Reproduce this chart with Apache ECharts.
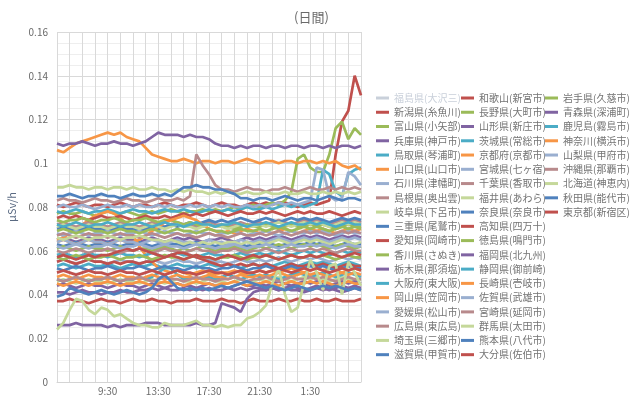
<!DOCTYPE html>
<html><head><meta charset="utf-8">
<script src="https://cdn.jsdelivr.net/npm/echarts@6/dist/echarts.min.js"></script>
<style>html,body{margin:0;padding:0;background:#fff}#c{width:640px;height:396px}</style>
</head><body><div id="c"></div>
<script>
const times = ["5:30","6:00","6:30","7:00","7:30","8:00","8:30","9:00","9:30","10:00","10:30","11:00","11:30","12:00","12:30","13:00","13:30","14:00","14:30","15:00","15:30","16:00","16:30","17:00","17:30","18:00","18:30","19:00","19:30","20:00","20:30","21:00","21:30","22:00","22:30","23:00","23:30","0:00","0:30","1:00","1:30","2:00","2:30","3:00","3:30","4:00","4:30","5:00","5:30"];
const tickLabels = ["9:30","13:30","17:30","21:30","1:30"];
const names = ['福島県(大沢三)','新潟県(糸魚川)','富山県(小矢部)','兵庫県(神戸市)','鳥取県(琴浦町)','山口県(山口市)','石川県(津幡町)','島根県(奥出雲)','岐阜県(下呂市)','三重県(尾鷲市)','愛知県(岡崎市)','香川県(さぬき)','栃木県(那須塩)','大阪府(東大阪)','岡山県(笠岡市)','愛媛県(松山市)','広島県(東広島)','埼玉県(三郷市)','滋賀県(甲賀市)','和歌山(新宮市)','長野県(大町市)','山形県(新庄市)','茨城県(常総市)','京都府(京都市)','宮城県(七ヶ宿)','千葉県(香取市)','福井県(あわら)','奈良県(奈良市)','高知県(四万十)','徳島県(鳴門市)','福岡県(北九州)','静岡県(御前崎)','長崎県(壱岐市)','佐賀県(武雄市)','宮崎県(延岡市)','群馬県(太田市)','熊本県(八代市)','大分県(佐伯市)','岩手県(久慈市)','青森県(深浦町)','鹿児島(霧島市)','神奈川(横浜市)','山梨県(甲府市)','沖縄県(那覇市)','北海道(神恵内)','秋田県(能代市)','東京都(新宿区)'];

const fukushima = [0.182,0.181,0.183,0.182,0.180,0.181,0.182,0.181, 0.180,0.181,0.180,0.179,0.180,0.181,0.180,0.179, 0.180,0.179,0.180,0.181,0.180,0.179,0.180,0.181, 0.180,0.181,0.180,0.179,0.180,0.181,0.180,0.181, 0.180,0.181,0.182,0.181,0.180,0.181,0.182,0.181, 0.182,0.181,0.180,0.181,0.182,0.181,0.180,0.181,0.182];
const niigata = [0.081,0.080,0.081,0.082,0.081,0.080,0.081,0.081, 0.080,0.081,0.082,0.081,0.080,0.081,0.081,0.080, 0.081,0.082,0.081,0.080,0.081,0.081,0.082,0.081, 0.080,0.081,0.082,0.081,0.081,0.080,0.081,0.082, 0.081,0.082,0.081,0.082,0.082,0.081,0.080,0.081, 0.082,0.081,0.082,0.083,0.104,0.119,0.124,0.140,0.131];
const toyama = [0.077,0.078,0.077,0.077,0.078,0.077,0.076,0.077, 0.078,0.077,0.077,0.078,0.077,0.076,0.077,0.078, 0.077,0.078,0.079,0.078,0.077,0.078,0.078,0.079, 0.078,0.079,0.078,0.079,0.080,0.079,0.080,0.081, 0.080,0.081,0.082,0.081,0.083,0.087,0.102,0.104, 0.098,0.096,0.096,0.104,0.116,0.119,0.111,0.116,0.113];
const hyogo = [0.065,0.066,0.065,0.064,0.065,0.066,0.065,0.065, 0.064,0.065,0.066,0.065,0.065,0.064,0.065,0.066, 0.065,0.064,0.065,0.066,0.065,0.066,0.065,0.064, 0.065,0.065,0.066,0.065,0.064,0.065,0.066,0.065, 0.066,0.065,0.066,0.067,0.066,0.065,0.066,0.067, 0.066,0.067,0.066,0.065,0.066,0.067,0.066,0.067,0.066];
const tottori = [0.078,0.077,0.078,0.079,0.078,0.077,0.078,0.078, 0.079,0.078,0.077,0.078,0.079,0.078,0.078,0.077, 0.078,0.079,0.078,0.078,0.079,0.078,0.077,0.078, 0.079,0.078,0.078,0.079,0.078,0.079,0.080,0.079, 0.079,0.080,0.079,0.080,0.081,0.080,0.081,0.080, 0.081,0.082,0.097,0.095,0.087,0.085,0.095,0.097,0.098];
const yamaguchi = [0.106,0.105,0.107,0.109,0.110,0.111,0.112,0.113, 0.114,0.113,0.114,0.112,0.111,0.110,0.107,0.104, 0.103,0.102,0.101,0.101,0.102,0.101,0.100,0.101, 0.101,0.100,0.101,0.101,0.100,0.101,0.102,0.101, 0.100,0.101,0.101,0.100,0.101,0.101,0.100,0.101, 0.101,0.100,0.101,0.100,0.101,0.099,0.098,0.099,0.097];
const ishikawa = [0.080,0.081,0.080,0.080,0.081,0.080,0.079,0.080, 0.081,0.080,0.080,0.081,0.080,0.081,0.080,0.080, 0.081,0.080,0.081,0.080,0.080,0.081,0.080,0.081, 0.080,0.081,0.080,0.081,0.080,0.080,0.081,0.080, 0.081,0.080,0.081,0.082,0.081,0.082,0.081,0.082, 0.083,0.098,0.097,0.085,0.083,0.084,0.096,0.094,0.090];
const shimane = [0.083,0.084,0.083,0.083,0.082,0.083,0.084,0.083, 0.083,0.082,0.083,0.084,0.083,0.083,0.082,0.083, 0.084,0.083,0.083,0.084,0.083,0.085,0.104,0.099, 0.095,0.090,0.088,0.088,0.087,0.088,0.089,0.088, 0.088,0.087,0.088,0.088,0.089,0.088,0.087,0.088, 0.089,0.088,0.088,0.089,0.088,0.089,0.088,0.089,0.088];
const gifu = [0.089,0.089,0.090,0.089,0.089,0.088,0.089,0.089, 0.088,0.089,0.089,0.088,0.089,0.088,0.088,0.089, 0.088,0.088,0.087,0.088,0.087,0.088,0.087,0.087, 0.086,0.087,0.086,0.087,0.086,0.086,0.087,0.086, 0.086,0.087,0.086,0.086,0.087,0.086,0.086,0.087, 0.086,0.086,0.087,0.086,0.087,0.086,0.087,0.086,0.087];
const mie = [0.063,0.062,0.063,0.064,0.063,0.062,0.063,0.063, 0.064,0.063,0.062,0.063,0.063,0.064,0.063,0.062, 0.063,0.064,0.063,0.063,0.062,0.063,0.064,0.063, 0.063,0.062,0.063,0.063,0.064,0.063,0.062,0.063, 0.063,0.064,0.063,0.062,0.063,0.064,0.063,0.063, 0.064,0.063,0.064,0.063,0.062,0.063,0.064,0.063,0.063];
const aichi = [0.037,0.037,0.038,0.037,0.037,0.036,0.037,0.038, 0.037,0.037,0.036,0.037,0.038,0.037,0.037,0.038, 0.037,0.037,0.036,0.037,0.037,0.037,0.038,0.037, 0.037,0.037,0.038,0.037,0.037,0.036,0.037,0.038, 0.037,0.037,0.037,0.038,0.037,0.037,0.038,0.037, 0.037,0.038,0.037,0.037,0.038,0.037,0.037,0.037,0.038];
const kagawa = [0.061,0.062,0.061,0.060,0.061,0.062,0.061,0.061, 0.060,0.061,0.062,0.061,0.060,0.061,0.061,0.060, 0.061,0.062,0.061,0.060,0.061,0.060,0.061,0.062, 0.061,0.060,0.061,0.061,0.062,0.061,0.060,0.061, 0.062,0.061,0.062,0.063,0.062,0.061,0.062,0.063, 0.062,0.063,0.062,0.061,0.062,0.063,0.062,0.061,0.062];
const tochigi = [0.109,0.108,0.109,0.109,0.110,0.109,0.108,0.109, 0.109,0.110,0.109,0.109,0.108,0.109,0.110,0.112, 0.114,0.113,0.113,0.113,0.112,0.113,0.112,0.112, 0.111,0.109,0.108,0.108,0.107,0.108,0.107,0.108, 0.108,0.107,0.108,0.108,0.107,0.108,0.108,0.107, 0.108,0.108,0.107,0.108,0.107,0.108,0.108,0.107,0.108];
const osaka = [0.053,0.054,0.053,0.052,0.053,0.054,0.053,0.053, 0.054,0.053,0.052,0.053,0.054,0.053,0.053,0.054, 0.053,0.052,0.053,0.054,0.053,0.053,0.052,0.053, 0.054,0.053,0.053,0.054,0.053,0.052,0.053,0.054, 0.053,0.054,0.053,0.054,0.055,0.054,0.053,0.054, 0.055,0.054,0.055,0.054,0.053,0.054,0.055,0.054,0.053];
const okayama = [0.065,0.066,0.068,0.070,0.072,0.074,0.076,0.077, 0.078,0.077,0.075,0.072,0.067,0.062,0.058,0.055, 0.052,0.051,0.050,0.051,0.050,0.049,0.050,0.051, 0.050,0.049,0.050,0.050,0.051,0.050,0.049,0.050, 0.051,0.050,0.051,0.050,0.051,0.052,0.051,0.050, 0.051,0.052,0.051,0.052,0.051,0.050,0.051,0.052,0.051];
const ehime = [0.055,0.056,0.055,0.054,0.055,0.056,0.055,0.055, 0.054,0.055,0.056,0.055,0.055,0.054,0.055,0.056, 0.055,0.054,0.055,0.056,0.055,0.055,0.054,0.055, 0.056,0.055,0.055,0.054,0.055,0.056,0.055,0.055, 0.056,0.055,0.056,0.057,0.056,0.055,0.056,0.057, 0.056,0.057,0.056,0.055,0.056,0.057,0.056,0.057,0.056];
const hiroshima = [0.072,0.073,0.072,0.071,0.072,0.073,0.072,0.072, 0.071,0.072,0.073,0.072,0.072,0.071,0.072,0.073, 0.072,0.071,0.072,0.073,0.072,0.072,0.071,0.072, 0.073,0.072,0.072,0.071,0.072,0.073,0.072,0.072, 0.073,0.072,0.073,0.074,0.073,0.072,0.073,0.074, 0.073,0.074,0.073,0.072,0.073,0.074,0.073,0.074,0.073];
const saitama = [0.046,0.047,0.046,0.045,0.046,0.047,0.046,0.046, 0.045,0.046,0.047,0.046,0.046,0.045,0.046,0.047, 0.046,0.045,0.046,0.047,0.046,0.046,0.045,0.046, 0.047,0.046,0.046,0.045,0.046,0.047,0.046,0.046, 0.047,0.046,0.047,0.048,0.047,0.046,0.047,0.048, 0.047,0.048,0.047,0.046,0.047,0.048,0.047,0.046,0.047];
const shiga = [0.070,0.071,0.070,0.069,0.070,0.071,0.070,0.070, 0.069,0.070,0.071,0.070,0.070,0.069,0.070,0.071, 0.070,0.071,0.072,0.071,0.072,0.073,0.072,0.073, 0.074,0.073,0.074,0.073,0.074,0.075,0.074,0.073, 0.074,0.075,0.074,0.073,0.074,0.075,0.074,0.075, 0.074,0.075,0.074,0.073,0.074,0.075,0.074,0.075,0.074];
const wakayama = [0.075,0.076,0.075,0.076,0.075,0.074,0.075,0.076, 0.075,0.075,0.076,0.075,0.074,0.075,0.076,0.075, 0.075,0.076,0.075,0.076,0.077,0.076,0.077,0.076, 0.077,0.078,0.077,0.076,0.077,0.078,0.077,0.077, 0.078,0.077,0.078,0.077,0.076,0.077,0.078,0.077, 0.078,0.077,0.077,0.078,0.077,0.076,0.077,0.078,0.077];
const nagano = [0.074,0.073,0.074,0.074,0.075,0.074,0.073,0.074, 0.074,0.075,0.074,0.073,0.074,0.074,0.075,0.074, 0.073,0.074,0.074,0.073,0.072,0.073,0.072,0.071, 0.072,0.071,0.072,0.071,0.070,0.071,0.072,0.071, 0.071,0.072,0.071,0.070,0.071,0.072,0.071,0.071, 0.072,0.071,0.072,0.071,0.070,0.071,0.072,0.071,0.071];
const yamagata = [0.026,0.026,0.026,0.027,0.026,0.026,0.026,0.026, 0.025,0.026,0.025,0.026,0.026,0.026,0.027,0.027, 0.027,0.026,0.026,0.026,0.026,0.026,0.027,0.026, 0.026,0.027,0.036,0.035,0.034,0.032,0.038,0.041, 0.042,0.042,0.043,0.042,0.043,0.042,0.042,0.041, 0.042,0.043,0.042,0.043,0.042,0.041,0.042,0.043,0.042];
const ibaraki = [0.058,0.059,0.058,0.057,0.058,0.059,0.058,0.058, 0.057,0.058,0.059,0.058,0.058,0.057,0.058,0.059, 0.058,0.057,0.058,0.059,0.058,0.058,0.057,0.058, 0.059,0.058,0.058,0.057,0.058,0.059,0.058,0.058, 0.059,0.058,0.059,0.060,0.059,0.058,0.059,0.060, 0.059,0.060,0.059,0.058,0.059,0.060,0.059,0.060,0.059];
const kyoto = [0.064,0.065,0.064,0.063,0.064,0.065,0.064,0.064, 0.063,0.064,0.065,0.064,0.064,0.065,0.067,0.069, 0.071,0.073,0.074,0.075,0.076,0.075,0.074,0.072, 0.070,0.069,0.068,0.069,0.068,0.069,0.070,0.069, 0.068,0.069,0.068,0.069,0.070,0.069,0.068,0.069, 0.070,0.069,0.070,0.069,0.068,0.069,0.070,0.069,0.070];
const miyagi = [0.068,0.067,0.068,0.069,0.068,0.067,0.068,0.068, 0.069,0.068,0.067,0.068,0.068,0.069,0.068,0.067, 0.068,0.069,0.068,0.068,0.067,0.068,0.069,0.068, 0.068,0.067,0.068,0.068,0.069,0.068,0.067,0.068, 0.068,0.069,0.068,0.067,0.068,0.069,0.068,0.068, 0.069,0.068,0.069,0.068,0.067,0.068,0.069,0.068,0.068];
const chiba = [0.060,0.059,0.060,0.061,0.060,0.059,0.060,0.060, 0.061,0.060,0.059,0.060,0.060,0.061,0.060,0.059, 0.060,0.061,0.060,0.060,0.059,0.060,0.061,0.060, 0.060,0.059,0.060,0.060,0.061,0.060,0.059,0.060, 0.060,0.061,0.060,0.059,0.060,0.061,0.060,0.060, 0.061,0.060,0.061,0.060,0.059,0.060,0.061,0.060,0.060];
const fukui = [0.071,0.072,0.071,0.070,0.071,0.072,0.071,0.071, 0.070,0.071,0.072,0.071,0.071,0.070,0.071,0.072, 0.071,0.070,0.071,0.072,0.071,0.071,0.070,0.071, 0.072,0.071,0.071,0.070,0.071,0.072,0.071,0.071, 0.072,0.071,0.072,0.073,0.072,0.071,0.072,0.073, 0.072,0.073,0.072,0.071,0.072,0.073,0.072,0.073,0.072];
const nara = [0.085,0.085,0.086,0.085,0.084,0.085,0.085,0.086, 0.085,0.085,0.084,0.085,0.086,0.085,0.085,0.086, 0.085,0.086,0.085,0.087,0.089,0.089,0.090,0.089, 0.089,0.088,0.088,0.087,0.086,0.084,0.084,0.083, 0.084,0.084,0.083,0.084,0.085,0.084,0.083,0.084, 0.084,0.083,0.084,0.085,0.084,0.083,0.084,0.084,0.083];
const kochi = [0.055,0.056,0.055,0.054,0.055,0.056,0.055,0.055, 0.054,0.055,0.054,0.055,0.055,0.054,0.055,0.055, 0.056,0.057,0.058,0.059,0.059,0.058,0.057,0.056, 0.055,0.054,0.053,0.054,0.053,0.054,0.053,0.054, 0.053,0.054,0.053,0.052,0.053,0.054,0.053,0.053, 0.054,0.053,0.054,0.053,0.052,0.053,0.054,0.053,0.053];
const tokushima = [0.057,0.056,0.057,0.058,0.057,0.056,0.057,0.057, 0.058,0.057,0.056,0.057,0.057,0.058,0.057,0.056, 0.057,0.058,0.057,0.057,0.056,0.057,0.058,0.057, 0.057,0.056,0.057,0.057,0.058,0.057,0.056,0.057, 0.057,0.058,0.057,0.056,0.057,0.058,0.057,0.057, 0.058,0.057,0.058,0.057,0.056,0.057,0.058,0.057,0.057];
const fukuoka = [0.041,0.041,0.040,0.041,0.042,0.041,0.041,0.040, 0.041,0.041,0.042,0.041,0.041,0.042,0.042,0.043, 0.042,0.043,0.042,0.042,0.043,0.042,0.043,0.042, 0.043,0.042,0.042,0.043,0.042,0.043,0.042,0.043, 0.043,0.042,0.043,0.042,0.043,0.044,0.043,0.042, 0.043,0.044,0.043,0.042,0.043,0.044,0.043,0.044,0.043];
const shizuoka = [0.047,0.046,0.047,0.048,0.047,0.046,0.047,0.047, 0.048,0.047,0.046,0.047,0.047,0.048,0.047,0.048, 0.050,0.052,0.052,0.049,0.047,0.048,0.047,0.048, 0.048,0.047,0.048,0.049,0.048,0.047,0.048,0.049, 0.048,0.049,0.048,0.047,0.048,0.049,0.050,0.049, 0.048,0.049,0.050,0.049,0.048,0.049,0.050,0.049,0.048];
const nagasaki = [0.048,0.049,0.048,0.047,0.048,0.049,0.048,0.048, 0.047,0.048,0.049,0.048,0.048,0.047,0.048,0.049, 0.048,0.047,0.048,0.049,0.048,0.048,0.047,0.048, 0.049,0.048,0.048,0.047,0.048,0.049,0.048,0.048, 0.049,0.048,0.049,0.050,0.049,0.048,0.049,0.050, 0.049,0.050,0.049,0.048,0.049,0.050,0.049,0.050,0.049];
const saga = [0.064,0.065,0.064,0.063,0.064,0.065,0.064,0.064, 0.063,0.064,0.065,0.064,0.064,0.063,0.064,0.065, 0.064,0.063,0.064,0.065,0.064,0.064,0.063,0.064, 0.065,0.064,0.064,0.063,0.064,0.065,0.064,0.064, 0.065,0.064,0.065,0.066,0.065,0.064,0.065,0.066, 0.065,0.066,0.065,0.064,0.065,0.066,0.065,0.066,0.065];
const miyazaki = [0.067,0.068,0.067,0.066,0.067,0.068,0.067,0.067, 0.066,0.067,0.068,0.067,0.067,0.066,0.067,0.068, 0.067,0.066,0.067,0.068,0.067,0.067,0.066,0.067, 0.068,0.067,0.067,0.066,0.067,0.068,0.067,0.067, 0.068,0.067,0.068,0.069,0.068,0.067,0.068,0.069, 0.068,0.069,0.068,0.067,0.068,0.069,0.068,0.069,0.068];
const gunma = [0.066,0.065,0.066,0.067,0.066,0.065,0.066,0.066, 0.067,0.066,0.065,0.066,0.066,0.067,0.066,0.065, 0.065,0.064,0.065,0.064,0.063,0.064,0.063,0.064, 0.063,0.064,0.063,0.064,0.064,0.063,0.064,0.063, 0.064,0.063,0.064,0.065,0.064,0.063,0.064,0.065, 0.064,0.065,0.064,0.063,0.064,0.065,0.064,0.063,0.064];
const kumamoto = [0.052,0.051,0.052,0.053,0.052,0.051,0.052,0.052, 0.053,0.052,0.051,0.052,0.052,0.053,0.052,0.051, 0.052,0.053,0.052,0.052,0.051,0.052,0.053,0.052, 0.052,0.051,0.052,0.052,0.053,0.052,0.051,0.052, 0.052,0.053,0.052,0.051,0.052,0.053,0.052,0.052, 0.053,0.052,0.053,0.052,0.051,0.052,0.053,0.052,0.052];
const oita = [0.057,0.058,0.057,0.056,0.057,0.058,0.057,0.058, 0.058,0.059,0.060,0.061,0.060,0.061,0.060,0.059, 0.058,0.057,0.058,0.057,0.056,0.057,0.058,0.057, 0.057,0.056,0.057,0.058,0.057,0.056,0.057,0.058, 0.057,0.058,0.057,0.056,0.057,0.058,0.057,0.057, 0.058,0.057,0.058,0.059,0.058,0.057,0.058,0.059,0.058];
const iwate = [0.069,0.070,0.069,0.068,0.069,0.070,0.069,0.069, 0.068,0.069,0.070,0.069,0.069,0.068,0.069,0.070, 0.069,0.068,0.069,0.070,0.069,0.069,0.068,0.069, 0.070,0.069,0.069,0.068,0.069,0.070,0.069,0.069, 0.070,0.069,0.070,0.071,0.070,0.069,0.070,0.071, 0.070,0.071,0.070,0.069,0.070,0.071,0.070,0.071,0.070];
const aomori = [0.044,0.045,0.044,0.043,0.044,0.045,0.044,0.044, 0.043,0.044,0.045,0.044,0.044,0.043,0.044,0.045, 0.044,0.043,0.044,0.045,0.044,0.044,0.043,0.044, 0.045,0.044,0.044,0.043,0.044,0.045,0.044,0.044, 0.045,0.044,0.045,0.046,0.045,0.044,0.045,0.046, 0.045,0.046,0.045,0.044,0.045,0.046,0.045,0.046,0.045];
const kagoshima = [0.072,0.071,0.072,0.073,0.072,0.071,0.072,0.072, 0.073,0.072,0.071,0.072,0.072,0.073,0.072,0.071, 0.072,0.073,0.072,0.072,0.071,0.072,0.073,0.072, 0.072,0.071,0.072,0.072,0.073,0.072,0.071,0.072, 0.072,0.073,0.072,0.071,0.072,0.073,0.072,0.072, 0.073,0.072,0.073,0.072,0.071,0.072,0.073,0.072,0.072];
const kanagawa = [0.045,0.044,0.045,0.046,0.045,0.044,0.045,0.045, 0.046,0.045,0.044,0.045,0.045,0.046,0.045,0.044, 0.045,0.046,0.045,0.045,0.044,0.045,0.046,0.045, 0.045,0.044,0.045,0.045,0.046,0.045,0.044,0.045, 0.045,0.046,0.045,0.044,0.045,0.046,0.045,0.045, 0.046,0.045,0.046,0.045,0.044,0.045,0.046,0.045,0.045];
const yamanashi = [0.062,0.061,0.062,0.063,0.062,0.061,0.062,0.062, 0.063,0.062,0.061,0.062,0.062,0.063,0.062,0.061, 0.062,0.063,0.062,0.062,0.061,0.062,0.063,0.062, 0.062,0.061,0.062,0.062,0.063,0.062,0.061,0.062, 0.062,0.063,0.062,0.061,0.062,0.063,0.062,0.062, 0.063,0.062,0.063,0.062,0.061,0.062,0.063,0.062,0.062];
const okinawa = [0.047,0.046,0.047,0.048,0.047,0.046,0.047,0.047, 0.048,0.047,0.046,0.047,0.047,0.048,0.047,0.046, 0.047,0.048,0.047,0.047,0.046,0.047,0.048,0.047, 0.047,0.046,0.047,0.047,0.048,0.047,0.046,0.047, 0.047,0.048,0.047,0.046,0.047,0.048,0.047,0.047, 0.048,0.047,0.048,0.047,0.046,0.047,0.048,0.047,0.047];
const hokkaido = [0.024,0.027,0.033,0.038,0.037,0.033,0.031,0.034, 0.033,0.030,0.031,0.029,0.027,0.026,0.026,0.025, 0.025,0.027,0.026,0.026,0.026,0.027,0.028,0.026, 0.026,0.025,0.026,0.025,0.026,0.026,0.029,0.030, 0.032,0.035,0.045,0.052,0.040,0.032,0.034,0.045, 0.056,0.050,0.042,0.053,0.054,0.040,0.055,0.050,0.044];
const akita = [0.039,0.040,0.043,0.042,0.041,0.040,0.041,0.042, 0.041,0.040,0.041,0.042,0.041,0.040,0.041,0.043, 0.047,0.049,0.046,0.043,0.042,0.043,0.042,0.043, 0.042,0.043,0.044,0.043,0.044,0.045,0.046,0.045, 0.044,0.043,0.044,0.043,0.042,0.043,0.044,0.043, 0.042,0.043,0.044,0.043,0.044,0.043,0.042,0.043,0.042];
const tokyo = [0.050,0.051,0.050,0.049,0.050,0.051,0.050,0.050, 0.049,0.050,0.051,0.050,0.050,0.049,0.050,0.051, 0.050,0.049,0.050,0.051,0.050,0.050,0.049,0.050, 0.051,0.050,0.050,0.049,0.050,0.051,0.050,0.050, 0.051,0.050,0.051,0.052,0.051,0.050,0.051,0.052, 0.051,0.052,0.051,0.050,0.051,0.052,0.051,0.052,0.051];

const values = [fukushima,niigata,toyama,hyogo,tottori,yamaguchi,ishikawa,shimane,gifu,mie,aichi,kagawa,tochigi,osaka,okayama,ehime,hiroshima,saitama,shiga,wakayama,nagano,yamagata,ibaraki,kyoto,miyagi,chiba,fukui,nara,kochi,tokushima,fukuoka,shizuoka,nagasaki,saga,miyazaki,gunma,kumamoto,oita,iwate,aomori,kagoshima,kanagawa,yamanashi,okinawa,hokkaido,akita,tokyo];
const palette = ['#4F81BD','#C0504D','#9BBB59','#8064A2','#4BACC6','#F79646','#9AAFD0','#B88A8C','#C5D89A'];
const hiddenName = '福島県(大沢三)';

const font = "'Noto Sans CJK JP','Noto Sans',sans-serif";
const chart = echarts.init(document.getElementById('c'), null, {renderer:'canvas'});
const cols = [names.slice(0,19), names.slice(19,38), names.slice(38)];
const colLeft = [376, 461, 545];
chart.setOption({
  animation: false,
  backgroundColor: '#fff',
  title: {text: '(日間)', left: 289, top: 6, textStyle: {fontSize: 13, fontWeight: 'normal', color: '#6a6a6a', fontFamily: font}},
  grid: {left: 57, right: 279, top: 32, bottom: 12, containLabel: false},
  legend: cols.map((col, k) => ({
    data: col, orient: 'vertical', left: colLeft[k], top: 92, padding: 0,
    itemGap: 2.26, itemWidth: 13, itemHeight: 3, icon: 'rect',
    textStyle: {fontSize: 10, color: '#747474', lineHeight: 12, fontFamily: font},
    inactiveColor: '#c9d0da', inactiveBorderColor: '#c9d0da',
    selected: k === 0 ? {[hiddenName]: false} : {}
  })),
  xAxis: {
    type: 'category', data: times, boundaryGap: false,
    axisLine: {show: true, lineStyle: {color: '#d4d4d4'}},
    axisTick: {show: false},
    axisLabel: {interval: (i, v) => tickLabels.includes(v) && i > 0 && i < times.length - 1, fontSize: 10, color: '#6a6a6a', margin: 4, fontFamily: font},
    splitLine: {show: true, interval: (i) => i % 2 === 0, lineStyle: {color: '#d9d9d9', width: 1}}
  },
  yAxis: {
    type: 'value', min: 0, max: 0.16, interval: 0.02,
    name: 'μSv/h', nameLocation: 'middle', nameGap: 40,
    nameTextStyle: {color: '#5a6a82', fontSize: 11, fontFamily: font},
    axisLine: {show: false}, axisTick: {show: false},
    axisLabel: {fontSize: 10, color: '#6a6a6a', margin: 9, fontFamily: font},
    splitLine: {show: true, lineStyle: {color: '#d9d9d9', width: 1}},
    minorTick: {show: false, splitNumber: 4},
    minorSplitLine: {show: true, lineStyle: {color: '#eeeeee', width: 1}}
  },
  series: values.map((d, k) => ({
    name: names[k], type: 'line', data: d, symbol: 'none', showSymbol: false,
    lineStyle: {width: 2.7, color: palette[k % 9]}, itemStyle: {color: palette[k % 9]},
    emphasis: {disabled: true}, silent: true
  }))
});
</script></body></html>
